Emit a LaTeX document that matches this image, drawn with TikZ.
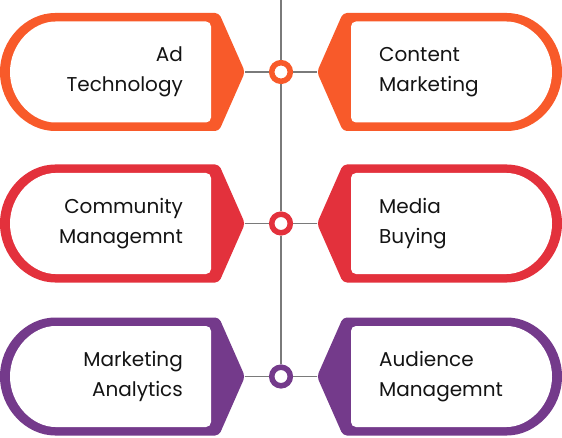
\documentclass[tikz,border=0pt]{standalone}
\usepackage{fontspec}
\setmainfont{Poppins}
\definecolor{corange}{HTML}{F85A2A}
\definecolor{cred}{HTML}{E3313C}
\definecolor{cpurple}{HTML}{743A8B}
\definecolor{lgray}{HTML}{7A7A7A}
\tikzset{
  lbl/.style={font=\fontsize{20}{30}\selectfont, text=black!92, inner sep=0pt},
  ring/.style={circle, draw=#1, line width=5.5pt, fill=white, minimum size=18.6pt, inner sep=0pt},
  conn/.style={draw=lgray, line width=1.2pt},
}
\newcommand\mytagshape[2]{%
  \fill[#1, rounded corners=4pt] (245,#2) -- (219,#2+59) -- (59,#2+59) arc[start angle=90,end angle=270,radius=59] -- (219,#2-59) -- cycle;
  \fill[white, rounded corners=5pt] (211,#2+50.5) -- (60.5,#2+50.5) arc[start angle=90,end angle=270,radius=50.5] -- (211,#2-50.5) -- cycle;
}
\begin{document}
\begin{tikzpicture}[x=1pt,y=1pt]
\useasboundingbox (0,0) rectangle (562,437);
% shapes
\mytagshape{corange}{365}
\mytagshape{cred}{213.5}
\mytagshape{cpurple}{60.5}
\begin{scope}[xshift=562pt,xscale=-1]
\mytagshape{corange}{365}
\mytagshape{cred}{213.5}
\mytagshape{cpurple}{60.5}
\end{scope}
% coordinates
\coordinate (top) at (281,437);
\coordinate (tl1) at (245,365);
\coordinate (tr1) at (317,365);
\coordinate (tl2) at (245,213.5);
\coordinate (tr2) at (317,213.5);
\coordinate (tl3) at (245,60.5);
\coordinate (tr3) at (317,60.5);
% rings
\node[ring=corange] (c1) at (281,365) {};
\node[ring=cred] (c2) at (281,213.5) {};
\node[ring=cpurple] (c3) at (281,60.5) {};
% connectors
\draw[conn] (top) -- (c1.north);
\draw[conn] (c1.south) -- (c2.north);
\draw[conn] (c2.south) -- (c3.north);
\draw[conn] (tl1) -- (c1.west);
\draw[conn] (c1.east) -- (tr1);
\draw[conn] (tl2) -- (c2.west);
\draw[conn] (c2.east) -- (tr2);
\draw[conn] (tl3) -- (c3.west);
\draw[conn] (c3.east) -- (tr3);
% labels
\node[lbl, anchor=east, align=right] (l1) at (183,365) {Ad\\Technology};
\node[lbl, anchor=east, align=right] (l2) at (183,213.5) {Community\\Managemnt};
\node[lbl, anchor=east, align=right] (l3) at (183,60.5) {Marketing\\Analytics};
\node[lbl, anchor=west, align=left] (r1) at (379,365) {Content\\Marketing};
\node[lbl, anchor=west, align=left] (r2) at (379,213.5) {Media\\Buying};
\node[lbl, anchor=west, align=left] (r3) at (379,60.5) {Audience\\Managemnt};
\end{tikzpicture}
\end{document}
